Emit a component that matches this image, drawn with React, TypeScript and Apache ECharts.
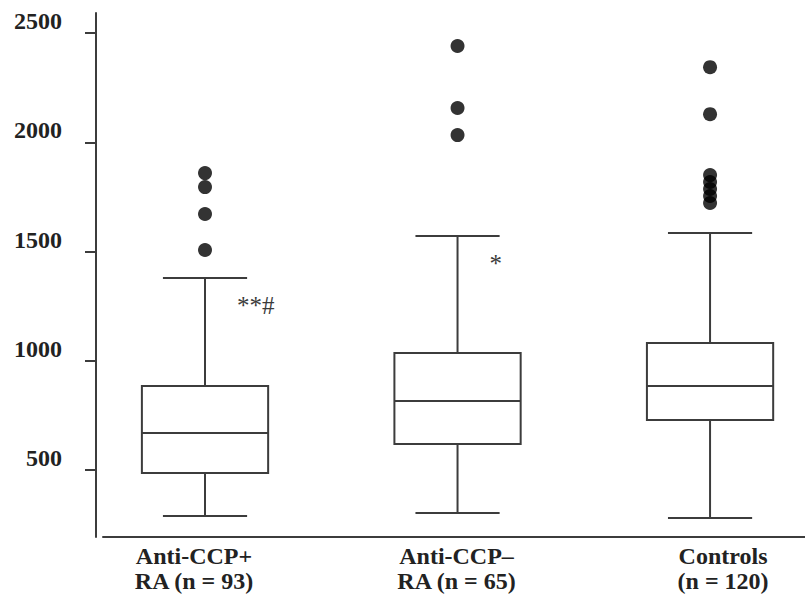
import React, { useEffect, useRef } from "react";
import * as echarts from "echarts";

const categories = ["Anti-CCP+\nRA (n = 93)", "Anti-CCP–\nRA (n = 65)", "Controls\n(n = 120)"];
const lowWhisker = [289, 303, 280];
const q1 = [486, 619, 729];
const median = [669, 816, 884];
const q3 = [884, 1035, 1081];
const highWhisker = [1379, 1571, 1585];
const outliers = [
  [1507, 1672, 1795, 1859],
  [2033, 2157, 2441],
  [1722, 1754, 1786, 1818, 1850, 2129, 2344],
];
const annotations = ["**#", "*", ""];
const yTicks = [500, 1000, 1500, 2000, 2500];

const SERIF = "Liberation Serif";
const LINE = "#3c3c3c";

export default function App() {
  const ref = useRef<HTMLDivElement>(null);
  useEffect(() => {
    if (!ref.current) return;
    const chart = echarts.init(ref.current, undefined, { renderer: "svg" });
    const boxData = categories.map((_, i) => [i, lowWhisker[i], q1[i], median[i], q3[i], highWhisker[i]]);
    const outlierData: number[][] = [];
    outliers.forEach((arr, i) => arr.forEach((v) => outlierData.push([i, v])));
    const labelKeys = ["l", "m", "r"];
    const richBase = { fontFamily: SERIF, fontWeight: "bold", fontSize: 24, lineHeight: 25, color: "#222" };

    chart.setOption({
      animation: false,
      backgroundColor: "#ffffff",
      textStyle: { fontFamily: SERIF },
      grid: { left: 103, right: 0, top: 13, bottom: 65, containLabel: false },
      xAxis: {
        type: "value",
        min: -0.404,
        max: 2.376,
        splitLine: { show: false },
        axisLine: { show: true, onZero: false, lineStyle: { color: LINE, width: 2 } },
        axisTick: { show: false },
        axisLabel: {
          customValues: [0, 1, 2],
          margin: 6,
          fontFamily: SERIF,
          formatter: (v: number) => {
            const i = Math.round(v);
            const k = labelKeys[i];
            return (categories[i] || "")
              .split("\n")
              .map((s) => `{${k}|${s}}`)
              .join("\n");
          },
          rich: {
            l: { ...richBase, padding: [0, 22, 0, 0] },
            m: { ...richBase, padding: [0, 2, 0, 0] },
            r: { ...richBase, padding: [0, 0, 0, 26] },
          },
        },
      },
      yAxis: {
        type: "value",
        min: 193,
        max: 2592,
        offset: 7,
        splitLine: { show: false },
        axisLine: { show: true, onZero: false, lineStyle: { color: LINE, width: 2 } },
        axisTick: { show: true, inside: false, length: 11, customValues: yTicks, lineStyle: { color: LINE, width: 2 } },
        axisLabel: {
          customValues: yTicks,
          formatter: (v: number) => String(v),
          margin: 34,
          fontFamily: SERIF,
          fontWeight: "bold",
          fontSize: 24,
          lineHeight: 24,
          verticalAlign: "bottom",
          color: "#222",
        },
      },
      series: [
        {
          type: "custom",
          data: boxData,
          encode: { x: 0, y: [1, 2, 3, 4, 5] },
          renderItem: (params: any, api: any) => {
            const x = api.value(0);
            const lo = api.value(1);
            const a = api.value(2);
            const m = api.value(3);
            const b = api.value(4);
            const hi = api.value(5);
            const boxHalf = 0.25;
            const capHalf = 1 / 6;
            const pTL = api.coord([x - boxHalf, b]);
            const pBR = api.coord([x + boxHalf, a]);
            const pMedL = api.coord([x - boxHalf, m]);
            const pMedR = api.coord([x + boxHalf, m]);
            const pHi = api.coord([x, hi]);
            const pB = api.coord([x, b]);
            const pA = api.coord([x, a]);
            const pLo = api.coord([x, lo]);
            const capHiL = api.coord([x - capHalf, hi]);
            const capHiR = api.coord([x + capHalf, hi]);
            const capLoL = api.coord([x - capHalf, lo]);
            const capLoR = api.coord([x + capHalf, lo]);
            const ls = { stroke: LINE, lineWidth: 2, fill: "none" };
            const children: any[] = [
              { type: "rect", shape: { x: pTL[0], y: pTL[1], width: pBR[0] - pTL[0], height: pBR[1] - pTL[1] }, style: ls },
              { type: "line", shape: { x1: pMedL[0], y1: pMedL[1], x2: pMedR[0], y2: pMedR[1] }, style: ls },
              { type: "line", shape: { x1: pHi[0], y1: pHi[1], x2: pB[0], y2: pB[1] }, style: ls },
              { type: "line", shape: { x1: pA[0], y1: pA[1], x2: pLo[0], y2: pLo[1] }, style: ls },
              { type: "line", shape: { x1: capHiL[0], y1: capHiL[1], x2: capHiR[0], y2: capHiR[1] }, style: ls },
              { type: "line", shape: { x1: capLoL[0], y1: capLoL[1], x2: capLoR[0], y2: capLoR[1] }, style: ls },
            ];
            const ann = annotations[params.dataIndex];
            if (ann) {
              children.push({
                type: "text",
                x: pHi[0] + 32,
                y: pHi[1] + 15,
                style: {
                  text: ann,
                  fontFamily: SERIF,
                  fontSize: 25,
                  fill: "#3a3a3a",
                  align: "left",
                  verticalAlign: "top",
                },
              });
            }
            return { type: "group", children };
          },
          z: 2,
        },
        {
          type: "scatter",
          data: outlierData,
          symbol: "circle",
          symbolSize: 14,
          itemStyle: { color: "#000000" },
          z: 3,
        },
      ],
    });
    return () => chart.dispose();
  }, []);
  return <div ref={ref} style={{ position: "fixed", left: 0, top: 0, width: 805, height: 602 }} />;
}
